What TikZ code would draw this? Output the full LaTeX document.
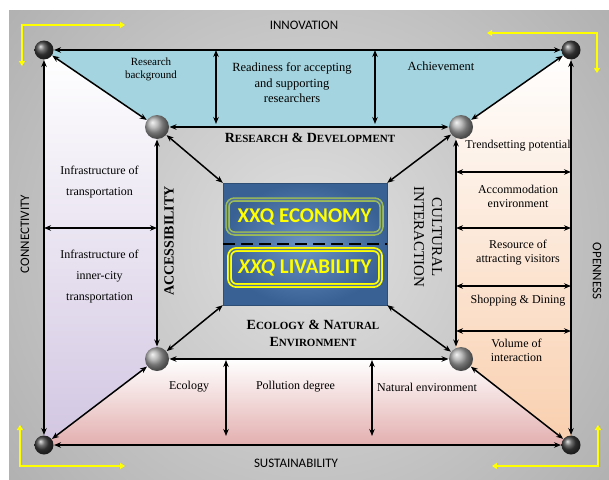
\documentclass[tikz,border=0pt]{standalone}
\usepackage{fontspec}
\setmainfont{Liberation Serif}
\newfontfamily\calibri{Carlito}
\usetikzlibrary{arrows.meta,calc}
\definecolor{bgin}{HTML}{E0E0E0}
\definecolor{bgout}{HTML}{7E7E7E}
\definecolor{topA}{HTML}{A4D4DF}
\definecolor{topB}{HTML}{E0F0F4}
\definecolor{leftB}{HTML}{D2C6E2}
\definecolor{rightB}{HTML}{F9CFAE}
\definecolor{botB}{HTML}{E3AFAF}
\definecolor{coreblue}{HTML}{3A6194}
\definecolor{corelight}{HTML}{6B93C4}
\definecolor{econgreen}{HTML}{9BBB59}
\definecolor{xyellow}{HTML}{FFFF00}
\newcommand{\fakesc}[2]{{\fontsize{14}{17}\selectfont #1}{\fontsize{11}{17}\selectfont #2}}
\begin{document}
\begin{tikzpicture}[x=1pt,y=-1pt,
  dbl/.style={{Stealth[length=7pt,width=5.5pt]}-{Stealth[length=7pt,width=5.5pt]}, line width=1.5pt, black},
  yarrow/.style={{Triangle[length=5pt,width=6pt]}-{Triangle[length=5pt,width=6pt]}, line width=1.8pt, xyellow},
  outerball/.style={circle, minimum size=19pt, inner sep=0pt, outer sep=0.5pt, ball color=black!75},
  innerball/.style={circle, minimum size=24pt, inner sep=0pt, outer sep=0.5pt, ball color=black!35},
  lbl/.style={align=center, font=\fontsize{12}{14}\selectfont, inner sep=0pt},
  slbl/.style={align=center, font=\fontsize{11}{13}\selectfont, inner sep=0pt},
  sans/.style={font=\calibri\fontsize{13}{15}\selectfont, inner sep=0pt},
  capl/.style={align=center, font=\bfseries\fontsize{14}{17}\selectfont, inner sep=0pt}
]
\useasboundingbox (0,0) rectangle (609,479);
\fill[white] (0,0) rectangle (609,479);
\begin{scope}
\clip (9,10) rectangle (609,479);
\shade[inner color=bgin, outer color=bgout] (309,244) circle (800);
\end{scope}

% corner coordinates
\coordinate (cTL) at (44,50);
\coordinate (cTR) at (571,50);
\coordinate (cBL) at (44,445);
\coordinate (cBR) at (571,445);
\coordinate (dTL) at (157,127);
\coordinate (dTR) at (461,127);
\coordinate (dBL) at (157,359);
\coordinate (dBR) at (461,359);

% trapezoids
\shade[top color=topA, middle color=topB, bottom color=topA] (cTL) -- (cTR) -- (dTR) -- (dTL) -- cycle;
\shade[top color=white, bottom color=leftB] (cTL) -- (dTL) -- (dBL) -- (cBL) -- cycle;
\shade[top color=white, bottom color=rightB] (cTR) -- (cBR) -- (dBR) -- (456,359) -- (456,127) -- (dTR) -- cycle;
\shade[top color=white, bottom color=botB] (dBL) -- (dBR) -- (cBR) -- (cBL) -- cycle;

% balls
\node[outerball] (oTL) at (cTL) {};
\node[outerball] (oTR) at (cTR) {};
\node[outerball] (oBL) at (cBL) {};
\node[outerball] (oBR) at (cBR) {};
\node[innerball] (iTL) at (dTL) {};
\node[innerball] (iTR) at (dTR) {};
\node[innerball] (iBL) at (dBL) {};
\node[innerball] (iBR) at (dBR) {};

% central box
\node[draw=coreblue!80!black, inner color=corelight, outer color=coreblue, minimum width=164pt, minimum height=122pt, inner sep=0pt] (core) at (305,244) {};
\draw[line width=2pt, dash pattern=on 12pt off 6pt] (core.west) -- (core.east);
\node[rounded corners=7pt, draw=econgreen, line width=1.6pt, double=coreblue!90, double distance=1.3pt, minimum width=154pt, minimum height=34pt, inner sep=0pt, font=\calibri\bfseries\fontsize{21}{24}\selectfont, text=xyellow] (econ) at (304.5,216.5) {XXQ ECONOMY};
\node[rounded corners=7pt, draw=xyellow, line width=1.8pt, double=coreblue!90, double distance=1.3pt, minimum width=151pt, minimum height=36pt, inner sep=0pt, font=\calibri\bfseries\fontsize{21}{24}\selectfont, text=xyellow] (liv) at (305,267.5) {\textit{XXQ} LIVABILITY};

% frame connectors
\draw[dbl] (oTL) -- (oTR);
\draw[dbl] (iTL) -- (iTR);
\draw[dbl] (iBL) -- (iBR);
\draw[dbl] (oBL) -- (oBR);
\draw[dbl] (oTL) -- (oBL);
\draw[dbl] (oTR) -- (oBR);
\draw[dbl] (iTL) -- (iBL);
\draw[dbl] ([xshift=-5pt]iTR.south) -- ([xshift=-5pt]iBR.north);
\draw[dbl] (oTL) -- (iTL);
\draw[dbl] (oTR) -- (iTR);
\draw[dbl] (oBL) -- (iBL);
\draw[dbl] (oBR) -- (iBR);
\draw[dbl] (iTL) -- (core.north west);
\draw[dbl] (iTR) -- (core.north east);
\draw[dbl] (iBL) -- (core.south west);
\draw[dbl] (iBR) -- (core.south east);

% inner double arrows
\coordinate (ta1) at (216,50); \coordinate (tb1) at (216,124);
\coordinate (ta2) at (375,50); \coordinate (tb2) at (375,124);
\draw[dbl] (ta1) -- (tb1);
\draw[dbl] (ta2) -- (tb2);
\coordinate (ba1) at (226,360); \coordinate (bb1) at (226,436);
\coordinate (ba2) at (372,360); \coordinate (bb2) at (372,436);
\draw[dbl] (ba1) -- (bb1);
\draw[dbl] (ba2) -- (bb2);
\coordinate (la) at (44,228); \coordinate (lb) at (157,228);
\draw[dbl] (la) -- (lb);
\foreach \yy [count=\i] in {172,228,286,331} {
  \coordinate (ra\i) at (456,\yy); \coordinate (rb\i) at (571,\yy);
  \draw[dbl] (ra\i) -- (rb\i);
}

% yellow corner arrows
\coordinate (y1a) at (22,66); \coordinate (y1b) at (22,25); \coordinate (y1c) at (125,25);
\draw[yarrow] (y1a) -- (y1b) -- (y1c);
\coordinate (y2a) at (487,33); \coordinate (y2b) at (597,33); \coordinate (y2c) at (597,73);
\draw[yarrow] (y2a) -- (y2b) -- (y2c);
\coordinate (y3a) at (20,425); \coordinate (y3b) at (20,466); \coordinate (y3c) at (125,466);
\draw[yarrow] (y3a) -- (y3b) -- (y3c);
\coordinate (y4a) at (492,466); \coordinate (y4b) at (598,466); \coordinate (y4c) at (598,425);
\draw[yarrow] (y4a) -- (y4b) -- (y4c);

% outer labels
\node[sans] (innov) at (304,25) {INNOVATION};
\node[sans] (sust) at (296,463) {SUSTAINABILITY};
\node[sans, rotate=90] (conn) at (25,234) {CONNECTIVITY};
\node[sans, rotate=-90] (open) at (597,271) {OPENNESS};

% dimension labels
\node[capl] (rd) at (310,138) {\fakesc{R}{ESEARCH} \fakesc{\&}{} \fakesc{D}{EVELOPMENT}};
\node[capl] (en) at (313,333) {\fakesc{E}{COLOGY} \fakesc{\&}{} \fakesc{N}{ATURAL}\\\fakesc{E}{NVIRONMENT}};
\node[capl, rotate=90] (acc) at (169,241) {ACCESSIBILITY};
\node[align=center, rotate=-90, inner sep=0pt, font=\fontsize{15}{18}\selectfont] (cult) at (428,237) {CULTURAL\\INTERACTION};

% content labels
\node[slbl] (rb) at (151,69.5) {Research\\background};
\node[lbl, font=\fontsize{12.5}{15.5}\selectfont] (ready) at (292,83) {Readiness for accepting\\and supporting\\researchers};
\node[lbl, font=\fontsize{12.5}{15}\selectfont] (ach) at (441,66) {Achievement};
\node[lbl] (trend) at (518,146) {Trendsetting potential};
\node[lbl] (accom) at (518,196) {Accommodation\\environment};
\node[lbl] (res) at (518,252.5) {Resource of\\attracting visitors};
\node[lbl] (shop) at (518,301) {Shopping \& Dining};
\node[lbl] (vol) at (516.5,350) {Volume of\\interaction};
\node[lbl, font=\fontsize{12}{21}\selectfont] (inf1) at (99.5,182.5) {Infrastructure of\\transportation};
\node[lbl, font=\fontsize{12}{21}\selectfont] (inf2) at (99.5,277) {Infrastructure of\\inner-city\\transportation};
\node[lbl] (eco) at (189,387) {Ecology};
\node[lbl] (pol) at (295.5,387) {Pollution degree};
\node[lbl] (nat) at (427,387) {Natural environment};
\end{tikzpicture}
\end{document}
